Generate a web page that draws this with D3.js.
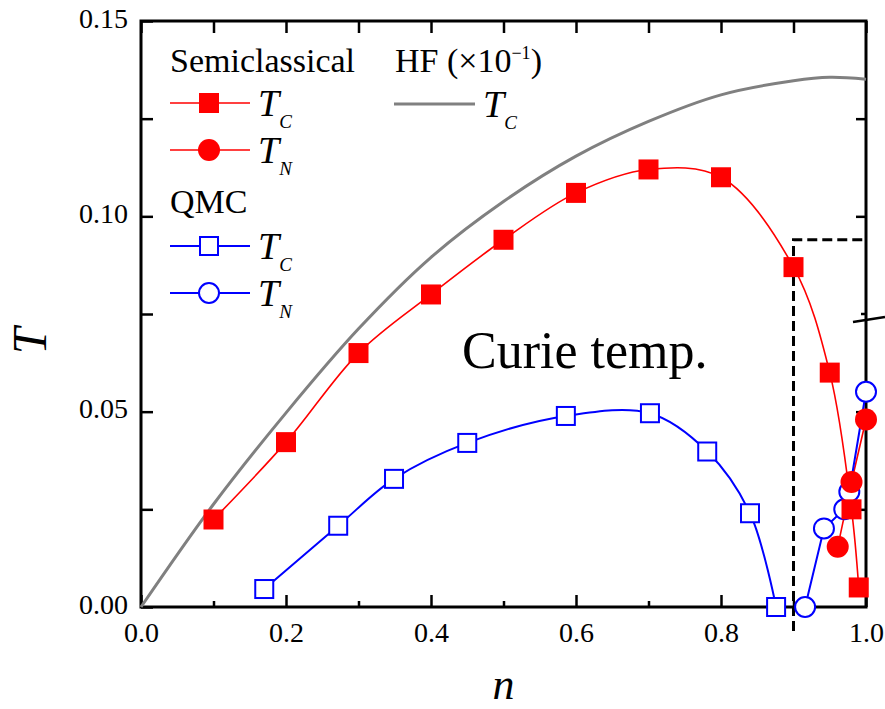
<!DOCTYPE html>
<html>
<head>
<meta charset="utf-8">
<script src="https://cdn.jsdelivr.net/npm/d3@7"></script>
<style>
  body { margin: 0; background: #fff; }
  svg { display: block; font-family: "Liberation Serif", "Times New Roman", serif; }
</style>
</head>
<body>
<div id="chart"></div>
<script>
// semiclassical (red)
const scTcN = [0.1, 0.2, 0.3, 0.4, 0.5, 0.6, 0.7, 0.8, 0.9, 0.95, 0.98, 0.99];
const scTcT = [0.0224, 0.0422, 0.065, 0.080, 0.094, 0.106, 0.112, 0.110, 0.087, 0.060, 0.025, 0.005];
const scTnN = [0.961, 0.98, 1.0];
const scTnT = [0.0154, 0.032, 0.048];
// QMC (blue)
const qmcTcN = [0.17, 0.272, 0.349, 0.45, 0.586, 0.702, 0.781, 0.84, 0.876];
const qmcTcT = [0.0046, 0.0208, 0.0328, 0.042, 0.0489, 0.0496, 0.0398, 0.024, 0.0];
const qmcTnN = [0.916, 0.942, 0.970, 0.977, 1.0];
const qmcTnT = [0.0, 0.0201, 0.025, 0.0295, 0.0551];
// HF (x10^-1), gray
const hfN = [0, 0.1, 0.2, 0.3, 0.4, 0.5, 0.6, 0.7, 0.8, 0.9, 0.95, 1.0];
const hfT = [0, 0.0263, 0.0497, 0.0712, 0.0895, 0.1038, 0.1154, 0.1243, 0.1311, 0.1347, 0.1356, 0.1351];

const xTicks = [0, 0.2, 0.4, 0.6, 0.8, 1.0];
const xMinor = [0.1, 0.3, 0.5, 0.7, 0.9];
const yTicks = [0, 0.05, 0.10, 0.15];
const yMinor = [0.025, 0.075, 0.125];
const boxN = 0.9, boxT = 0.094;   // dashed zoom box
const breakT = 0.075;             // axis break on the right

const W = 885, H = 709;
const svg = d3.select("#chart").append("svg").attr("width", W).attr("height", H);

const x = d3.scaleLinear().domain([0, 1]).range([141, 866]);
const y = d3.scaleLinear().domain([0, 0.15]).range([607, 21]);

const zip = (a, b) => a.map((v, i) => [v, b[i]]);

// axes
let gx = svg.append("g").attr("transform", "translate(0," + y(0) + ")")
  .call(d3.axisBottom(x).tickValues(xTicks).tickSize(-12).tickPadding(15)
    .tickFormat(d3.format(".1f")));
gx.selectAll("text").attr("font-size", 28).attr("font-family", "Liberation Serif").attr("fill", "#000");
svg.append("g").attr("transform", "translate(0," + y(0) + ")")
  .call(d3.axisBottom(x).tickValues(xMinor).tickSize(-6).tickFormat(""));
svg.append("g").attr("transform", "translate(0," + y(0.15) + ")")
  .call(d3.axisTop(x).tickValues(xTicks.concat(xMinor)).tickSize(-12).tickFormat(""));

let gy = svg.append("g").attr("transform", "translate(" + x(0) + ",0)")
  .call(d3.axisLeft(y).tickValues(yTicks).tickSize(-12).tickPadding(13)
    .tickFormat(d3.format(".2f")));
gy.selectAll("text").attr("font-size", 28).attr("font-family", "Liberation Serif").attr("fill", "#000").attr("dy", "0.22em");
svg.append("g").attr("transform", "translate(" + x(0) + ",0)")
  .call(d3.axisLeft(y).tickValues(yMinor).tickSize(-12).tickFormat(""));
svg.append("g").attr("transform", "translate(" + x(1) + ",0)")
  .call(d3.axisRight(y).tickValues([0.025, 0.05, 0.1, 0.125]).tickSize(-10).tickFormat(""));

svg.selectAll(".domain").remove();
svg.selectAll(".tick line").attr("stroke", "#000").attr("stroke-width", 2.5);

// frame
svg.append("rect")
  .attr("x", x(0)).attr("y", y(0.15))
  .attr("width", x(1) - x(0)).attr("height", y(0) - y(0.15))
  .attr("fill", "none").attr("stroke", "#000").attr("stroke-width", 3);

// axis break mark on right axis
svg.append("line")
  .attr("x1", x(1) - 5).attr("x2", x(1))
  .attr("y1", y(breakT)).attr("y2", y(breakT))
  .attr("stroke", "#000").attr("stroke-width", 2.5);
svg.append("line")
  .attr("x1", x(1) - 13).attr("y1", y(breakT) + 8)
  .attr("x2", x(1) + 19).attr("y2", y(breakT) + 3)
  .attr("stroke", "#000").attr("stroke-width", 2.5);

// axis titles
svg.append("text")
  .attr("transform", "translate(46," + 341 + ") rotate(-90)")
  .attr("text-anchor", "middle").attr("font-size", 48).attr("font-style", "italic")
  .text("T");
svg.append("text")
  .attr("x", (x(0) + x(1)) / 2).attr("y", 699)
  .attr("text-anchor", "middle").attr("font-size", 44).attr("font-style", "italic")
  .text("n");

// dashed box
svg.append("path")
  .attr("d", "M" + x(boxN) + "," + (y(0) + 24) + "V" + y(boxT) + "H" + x(1))
  .attr("fill", "none").attr("stroke", "#000").attr("stroke-width", 3)
  .attr("stroke-dasharray", "10,5");

// lines
const smooth = d3.line().x(d => x(d[0])).y(d => y(d[1])).curve(d3.curveCatmullRom.alpha(0.5));
const straight = d3.line().x(d => x(d[0])).y(d => y(d[1]));

svg.append("path").attr("d", smooth(zip(hfN, hfT)))
  .attr("fill", "none").attr("stroke", "#808080").attr("stroke-width", 3);
svg.append("path").attr("d", smooth(zip(scTcN, scTcT)))
  .attr("fill", "none").attr("stroke", "#ff0000").attr("stroke-width", 1.6);
svg.append("path").attr("d", straight(zip(scTnN, scTnT)))
  .attr("fill", "none").attr("stroke", "#ff0000").attr("stroke-width", 1.6);
svg.append("path").attr("d", smooth(zip(qmcTcN, qmcTcT)))
  .attr("fill", "none").attr("stroke", "#0000ff").attr("stroke-width", 2);
svg.append("path").attr("d", straight(zip(qmcTnN, qmcTnT)))
  .attr("fill", "none").attr("stroke", "#0000ff").attr("stroke-width", 2);

// markers
function squares(data, size, filled, color) {
  svg.append("g").selectAll("rect").data(data).enter().append("rect")
    .attr("x", d => x(d[0]) - size / 2).attr("y", d => y(d[1]) - size / 2)
    .attr("width", size).attr("height", size)
    .attr("fill", filled ? color : "#fff")
    .attr("stroke", filled ? "none" : color).attr("stroke-width", 2);
}
function circles(data, r, filled, color) {
  svg.append("g").selectAll("circle").data(data).enter().append("circle")
    .attr("cx", d => x(d[0])).attr("cy", d => y(d[1])).attr("r", r)
    .attr("fill", filled ? color : "#fff")
    .attr("stroke", filled ? "none" : color).attr("stroke-width", 2);
}
squares(zip(qmcTcN, qmcTcT), 18, false, "#0000ff");
circles(zip(qmcTnN, qmcTnT), 10, false, "#0000ff");
squares(zip(scTcN, scTcT), 20, true, "#ff0000");
circles(zip(scTnN, scTnT), 11, true, "#ff0000");

// legend
const leg = svg.append("g");
leg.append("text").attr("x", 170).attr("y", 72).attr("font-size", 34).text("Semiclassical");
leg.append("text").attr("x", 170).attr("y", 213).attr("font-size", 34).text("QMC");
let hf = leg.append("text").attr("x", 395).attr("y", 72).attr("font-size", 34);
hf.append("tspan").text("HF (\u00d710");
hf.append("tspan").attr("font-size", 18).attr("dy", -13).text("\u22121");
hf.append("tspan").attr("dy", 13).text(")");

function legLabel(xp, yp, sub) {
  let t = leg.append("text").attr("x", xp).attr("y", yp + 13).attr("font-style", "italic");
  t.append("tspan").attr("font-size", 38).text("T");
  t.append("tspan").attr("font-size", 19).attr("dy", 12).text(sub);
}
const rows = [
  { yp: 103, col: "#ff0000", shape: "sq", fill: true, sub: "C" },
  { yp: 150, col: "#ff0000", shape: "ci", fill: true, sub: "N" },
  { yp: 246, col: "#0000ff", shape: "sq", fill: false, sub: "C" },
  { yp: 293, col: "#0000ff", shape: "ci", fill: false, sub: "N" }
];
rows.forEach(r => {
  leg.append("line").attr("x1", 170).attr("x2", 250).attr("y1", r.yp).attr("y2", r.yp)
    .attr("stroke", r.col).attr("stroke-width", r.fill ? 1.6 : 2);
  if (r.shape === "sq") {
    let s = r.fill ? 20 : 18;
    leg.append("rect").attr("x", 209 - s / 2).attr("y", r.yp - s / 2).attr("width", s).attr("height", s)
      .attr("fill", r.fill ? r.col : "#fff").attr("stroke", r.fill ? "none" : r.col).attr("stroke-width", 2);
  } else {
    leg.append("circle").attr("cx", 209).attr("cy", r.yp).attr("r", r.fill ? 11 : 10)
      .attr("fill", r.fill ? r.col : "#fff").attr("stroke", r.fill ? "none" : r.col).attr("stroke-width", 2);
  }
  legLabel(258, r.yp, r.sub);
});
leg.append("line").attr("x1", 394).attr("x2", 475).attr("y1", 104).attr("y2", 104)
  .attr("stroke", "#808080").attr("stroke-width", 3);
legLabel(483, 104, "C");

// annotation
svg.append("text").attr("x", 462).attr("y", 368).attr("font-size", 52).text("Curie temp.");
</script>
</body>
</html>
